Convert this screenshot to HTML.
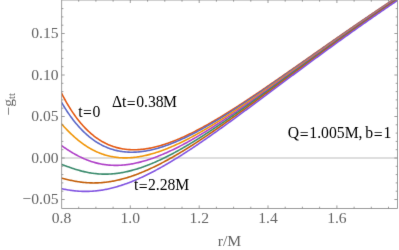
<!DOCTYPE html>
<html><head><meta charset="utf-8"><title>plot</title>
<style>
html,body{margin:0;padding:0;background:#fff;}
body{width:399px;height:250px;overflow:hidden;font-family:"Liberation Serif",serif;}
svg{display:block;}
text{font-family:"Liberation Serif",serif;}
.tl{fill:#646464;font-size:15.6px;}
.lb{fill:#000;font-size:15.7px;}
</style></head><body>
<svg width="399" height="250" viewBox="0 0 399 250">
<defs><filter id="b" x="0" y="0" width="399" height="250" filterUnits="userSpaceOnUse" color-interpolation-filters="sRGB"><feConvolveMatrix order="3" kernelMatrix="0.00524 0.06192 0.00524 0.06192 0.73137 0.06192 0.00524 0.06192 0.00524" edgeMode="duplicate" preserveAlpha="false"/></filter><clipPath id="c"><rect x="61.7" y="0" width="335.7" height="208.4"/></clipPath></defs>
<g filter="url(#b)">
<rect width="399" height="250" fill="#fff"/>
<line x1="61.7" y1="158.0" x2="397.4" y2="158.0" stroke="#bebebe" stroke-width="1.1"/>
<g clip-path="url(#c)" fill="none" stroke-width="1.6" stroke-linejoin="round">
<path d="M61.0,92.13 L62.0,94.11 L63.0,96.04 L64.0,97.92 L65.0,99.75 L66.0,101.54 L67.0,103.29 L68.0,104.99 L69.0,106.65 L70.0,108.26 L71.0,109.83 L72.0,111.37 L73.0,112.86 L74.0,114.31 L75.0,115.72 L76.0,117.10 L77.0,118.43 L78.0,119.73 L79.0,121.00 L80.0,122.23 L81.0,123.42 L82.0,124.58 L83.0,125.71 L84.0,126.80 L85.0,127.86 L86.0,128.89 L87.0,129.89 L88.0,130.85 L89.0,131.79 L90.0,132.69 L91.0,133.57 L92.0,134.42 L93.0,135.24 L94.0,136.03 L95.0,136.80 L96.0,137.54 L97.0,138.25 L98.0,138.94 L99.0,139.60 L100.0,140.24 L101.0,140.85 L102.0,141.44 L103.0,142.00 L104.0,142.54 L105.0,143.06 L106.0,143.56 L107.0,144.03 L108.0,144.49 L109.0,144.92 L110.0,145.33 L111.0,145.72 L112.0,146.09 L113.0,146.44 L114.0,146.77 L115.0,147.08 L116.0,147.37 L117.0,147.65 L118.0,147.90 L119.0,148.14 L120.0,148.36 L121.0,148.56 L122.0,148.75 L123.0,148.92 L124.0,149.07 L125.0,149.21 L126.0,149.33 L127.0,149.44 L128.0,149.53 L129.0,149.60 L130.0,149.66 L131.0,149.71 L132.0,149.74 L133.0,149.76 L134.0,149.76 L135.0,149.75 L136.0,149.73 L137.0,149.69 L138.0,149.64 L139.0,149.58 L140.0,149.51 L141.0,149.42 L142.0,149.32 L143.0,149.21 L144.0,149.09 L145.0,148.96 L146.0,148.82 L147.0,148.66 L148.0,148.49 L149.0,148.32 L150.0,148.13 L151.0,147.93 L152.0,147.73 L153.0,147.51 L154.0,147.28 L155.0,147.04 L156.0,146.80 L157.0,146.54 L158.0,146.28 L159.0,146.01 L160.0,145.72 L161.0,145.43 L162.0,145.13 L163.0,144.83 L164.0,144.51 L165.0,144.19 L166.0,143.85 L167.0,143.51 L168.0,143.17 L169.0,142.81 L170.0,142.45 L171.0,142.08 L172.0,141.70 L173.0,141.32 L174.0,140.93 L175.0,140.53 L176.0,140.13 L177.0,139.72 L178.0,139.30 L179.0,138.88 L180.0,138.45 L181.0,138.02 L182.0,137.57 L183.0,137.13 L184.0,136.67 L185.0,136.22 L186.0,135.75 L187.0,135.28 L188.0,134.81 L189.0,134.33 L190.0,133.84 L191.0,133.35 L192.0,132.86 L193.0,132.36 L194.0,131.85 L195.0,131.34 L196.0,130.83 L197.0,130.31 L198.0,129.79 L199.0,129.26 L200.0,128.73 L201.0,128.19 L202.0,127.65 L203.0,127.11 L204.0,126.56 L205.0,126.01 L206.0,125.46 L207.0,124.90 L208.0,124.33 L209.0,123.77 L210.0,123.20 L211.0,122.62 L212.0,122.05 L213.0,121.47 L214.0,120.88 L215.0,120.30 L216.0,119.71 L217.0,119.11 L218.0,118.52 L219.0,117.92 L220.0,117.32 L221.0,116.71 L222.0,116.10 L223.0,115.49 L224.0,114.88 L225.0,114.27 L226.0,113.65 L227.0,113.03 L228.0,112.41 L229.0,111.78 L230.0,111.15 L231.0,110.52 L232.0,109.89 L233.0,109.26 L234.0,108.62 L235.0,107.98 L236.0,107.34 L237.0,106.70 L238.0,106.05 L239.0,105.41 L240.0,104.76 L241.0,104.11 L242.0,103.46 L243.0,102.80 L244.0,102.15 L245.0,101.49 L246.0,100.83 L247.0,100.17 L248.0,99.51 L249.0,98.85 L250.0,98.19 L251.0,97.52 L252.0,96.85 L253.0,96.18 L254.0,95.51 L255.0,94.84 L256.0,94.17 L257.0,93.50 L258.0,92.82 L259.0,92.14 L260.0,91.47 L261.0,90.79 L262.0,90.11 L263.0,89.43 L264.0,88.75 L265.0,88.07 L266.0,87.38 L267.0,86.70 L268.0,86.01 L269.0,85.33 L270.0,84.64 L271.0,83.95 L272.0,83.27 L273.0,82.58 L274.0,81.89 L275.0,81.20 L276.0,80.51 L277.0,79.81 L278.0,79.12 L279.0,78.43 L280.0,77.74 L281.0,77.04 L282.0,76.35 L283.0,75.65 L284.0,74.96 L285.0,74.26 L286.0,73.57 L287.0,72.87 L288.0,72.17 L289.0,71.48 L290.0,70.78 L291.0,70.08 L292.0,69.38 L293.0,68.68 L294.0,67.98 L295.0,67.29 L296.0,66.59 L297.0,65.89 L298.0,65.19 L299.0,64.49 L300.0,63.79 L301.0,63.09 L302.0,62.39 L303.0,61.69 L304.0,60.99 L305.0,60.29 L306.0,59.59 L307.0,58.89 L308.0,58.19 L309.0,57.49 L310.0,56.79 L311.0,56.08 L312.0,55.38 L313.0,54.68 L314.0,53.98 L315.0,53.28 L316.0,52.58 L317.0,51.88 L318.0,51.19 L319.0,50.49 L320.0,49.79 L321.0,49.09 L322.0,48.39 L323.0,47.69 L324.0,46.99 L325.0,46.29 L326.0,45.59 L327.0,44.90 L328.0,44.20 L329.0,43.50 L330.0,42.80 L331.0,42.11 L332.0,41.41 L333.0,40.71 L334.0,40.02 L335.0,39.32 L336.0,38.63 L337.0,37.93 L338.0,37.24 L339.0,36.55 L340.0,35.85 L341.0,35.16 L342.0,34.47 L343.0,33.77 L344.0,33.08 L345.0,32.39 L346.0,31.70 L347.0,31.01 L348.0,30.32 L349.0,29.63 L350.0,28.94 L351.0,28.25 L352.0,27.56 L353.0,26.87 L354.0,26.19 L355.0,25.50 L356.0,24.81 L357.0,24.13 L358.0,23.44 L359.0,22.76 L360.0,22.07 L361.0,21.39 L362.0,20.71 L363.0,20.02 L364.0,19.34 L365.0,18.66 L366.0,17.98 L367.0,17.30 L368.0,16.62 L369.0,15.94 L370.0,15.26 L371.0,14.58 L372.0,13.91 L373.0,13.23 L374.0,12.55 L375.0,11.88 L376.0,11.20 L377.0,10.53 L378.0,9.86 L379.0,9.18 L380.0,8.51 L381.0,7.84 L382.0,7.17 L383.0,6.50 L384.0,5.83 L385.0,5.16 L386.0,4.49 L387.0,3.83 L388.0,3.16 L389.0,2.49 L390.0,1.83 L391.0,1.16 L392.0,0.50 L393.0,-0.16 L394.0,-0.82 L395.0,-1.49 L396.0,-2.15 L397.0,-2.81 L398.0,-3.47 L399.0,-4.12 L400.0,-4.78" stroke="#E45A14"/>
<path d="M61.0,101.51 L62.0,103.22 L63.0,104.89 L64.0,106.53 L65.0,108.13 L66.0,109.69 L67.0,111.22 L68.0,112.71 L69.0,114.17 L70.0,115.59 L71.0,116.98 L72.0,118.33 L73.0,119.66 L74.0,120.94 L75.0,122.20 L76.0,123.42 L77.0,124.61 L78.0,125.77 L79.0,126.90 L80.0,127.99 L81.0,129.06 L82.0,130.10 L83.0,131.11 L84.0,132.08 L85.0,133.03 L86.0,133.96 L87.0,134.85 L88.0,135.72 L89.0,136.56 L90.0,137.37 L91.0,138.16 L92.0,138.92 L93.0,139.66 L94.0,140.37 L95.0,141.05 L96.0,141.71 L97.0,142.35 L98.0,142.97 L99.0,143.56 L100.0,144.13 L101.0,144.67 L102.0,145.20 L103.0,145.70 L104.0,146.18 L105.0,146.64 L106.0,147.08 L107.0,147.50 L108.0,147.90 L109.0,148.28 L110.0,148.64 L111.0,148.98 L112.0,149.30 L113.0,149.60 L114.0,149.89 L115.0,150.15 L116.0,150.40 L117.0,150.63 L118.0,150.85 L119.0,151.05 L120.0,151.23 L121.0,151.39 L122.0,151.54 L123.0,151.67 L124.0,151.79 L125.0,151.89 L126.0,151.98 L127.0,152.05 L128.0,152.11 L129.0,152.16 L130.0,152.19 L131.0,152.20 L132.0,152.20 L133.0,152.19 L134.0,152.17 L135.0,152.13 L136.0,152.08 L137.0,152.02 L138.0,151.94 L139.0,151.86 L140.0,151.76 L141.0,151.65 L142.0,151.53 L143.0,151.39 L144.0,151.25 L145.0,151.09 L146.0,150.93 L147.0,150.75 L148.0,150.56 L149.0,150.37 L150.0,150.16 L151.0,149.94 L152.0,149.71 L153.0,149.48 L154.0,149.23 L155.0,148.98 L156.0,148.71 L157.0,148.44 L158.0,148.16 L159.0,147.86 L160.0,147.57 L161.0,147.26 L162.0,146.94 L163.0,146.62 L164.0,146.29 L165.0,145.95 L166.0,145.60 L167.0,145.24 L168.0,144.88 L169.0,144.51 L170.0,144.14 L171.0,143.75 L172.0,143.36 L173.0,142.96 L174.0,142.56 L175.0,142.15 L176.0,141.73 L177.0,141.31 L178.0,140.88 L179.0,140.44 L180.0,140.00 L181.0,139.55 L182.0,139.10 L183.0,138.64 L184.0,138.18 L185.0,137.71 L186.0,137.23 L187.0,136.75 L188.0,136.26 L189.0,135.77 L190.0,135.28 L191.0,134.78 L192.0,134.27 L193.0,133.76 L194.0,133.24 L195.0,132.72 L196.0,132.20 L197.0,131.67 L198.0,131.14 L199.0,130.60 L200.0,130.06 L201.0,129.51 L202.0,128.96 L203.0,128.41 L204.0,127.85 L205.0,127.29 L206.0,126.72 L207.0,126.16 L208.0,125.58 L209.0,125.01 L210.0,124.43 L211.0,123.85 L212.0,123.26 L213.0,122.67 L214.0,122.08 L215.0,121.48 L216.0,120.88 L217.0,120.28 L218.0,119.68 L219.0,119.07 L220.0,118.46 L221.0,117.85 L222.0,117.23 L223.0,116.61 L224.0,115.99 L225.0,115.37 L226.0,114.74 L227.0,114.11 L228.0,113.48 L229.0,112.85 L230.0,112.22 L231.0,111.58 L232.0,110.94 L233.0,110.30 L234.0,109.65 L235.0,109.01 L236.0,108.36 L237.0,107.71 L238.0,107.06 L239.0,106.40 L240.0,105.75 L241.0,105.09 L242.0,104.43 L243.0,103.77 L244.0,103.11 L245.0,102.44 L246.0,101.78 L247.0,101.11 L248.0,100.44 L249.0,99.77 L250.0,99.10 L251.0,98.43 L252.0,97.75 L253.0,97.08 L254.0,96.40 L255.0,95.72 L256.0,95.04 L257.0,94.36 L258.0,93.68 L259.0,93.00 L260.0,92.31 L261.0,91.63 L262.0,90.94 L263.0,90.26 L264.0,89.57 L265.0,88.88 L266.0,88.19 L267.0,87.50 L268.0,86.81 L269.0,86.11 L270.0,85.42 L271.0,84.73 L272.0,84.03 L273.0,83.34 L274.0,82.64 L275.0,81.95 L276.0,81.25 L277.0,80.55 L278.0,79.85 L279.0,79.15 L280.0,78.45 L281.0,77.76 L282.0,77.05 L283.0,76.35 L284.0,75.65 L285.0,74.95 L286.0,74.25 L287.0,73.55 L288.0,72.84 L289.0,72.14 L290.0,71.44 L291.0,70.73 L292.0,70.03 L293.0,69.33 L294.0,68.62 L295.0,67.92 L296.0,67.21 L297.0,66.51 L298.0,65.80 L299.0,65.10 L300.0,64.39 L301.0,63.69 L302.0,62.98 L303.0,62.27 L304.0,61.57 L305.0,60.86 L306.0,60.16 L307.0,59.45 L308.0,58.75 L309.0,58.04 L310.0,57.34 L311.0,56.63 L312.0,55.92 L313.0,55.22 L314.0,54.51 L315.0,53.81 L316.0,53.10 L317.0,52.40 L318.0,51.69 L319.0,50.99 L320.0,50.29 L321.0,49.58 L322.0,48.88 L323.0,48.17 L324.0,47.47 L325.0,46.77 L326.0,46.06 L327.0,45.36 L328.0,44.66 L329.0,43.96 L330.0,43.26 L331.0,42.55 L332.0,41.85 L333.0,41.15 L334.0,40.45 L335.0,39.75 L336.0,39.05 L337.0,38.35 L338.0,37.65 L339.0,36.96 L340.0,36.26 L341.0,35.56 L342.0,34.86 L343.0,34.17 L344.0,33.47 L345.0,32.77 L346.0,32.08 L347.0,31.38 L348.0,30.69 L349.0,30.00 L350.0,29.30 L351.0,28.61 L352.0,27.92 L353.0,27.22 L354.0,26.53 L355.0,25.84 L356.0,25.15 L357.0,24.46 L358.0,23.77 L359.0,23.08 L360.0,22.40 L361.0,21.71 L362.0,21.02 L363.0,20.34 L364.0,19.65 L365.0,18.97 L366.0,18.28 L367.0,17.60 L368.0,16.91 L369.0,16.23 L370.0,15.55 L371.0,14.87 L372.0,14.19 L373.0,13.51 L374.0,12.83 L375.0,12.15 L376.0,11.47 L377.0,10.79 L378.0,10.12 L379.0,9.44 L380.0,8.77 L381.0,8.09 L382.0,7.42 L383.0,6.74 L384.0,6.07 L385.0,5.40 L386.0,4.73 L387.0,4.06 L388.0,3.39 L389.0,2.72 L390.0,2.05 L391.0,1.39 L392.0,0.72 L393.0,0.05 L394.0,-0.61 L395.0,-1.28 L396.0,-1.94 L397.0,-2.60 L398.0,-3.27 L399.0,-3.93 L400.0,-4.59" stroke="#5C69C8"/>
<path d="M61.0,123.35 L62.0,124.48 L63.0,125.58 L64.0,126.67 L65.0,127.75 L66.0,128.80 L67.0,129.84 L68.0,130.87 L69.0,131.87 L70.0,132.86 L71.0,133.82 L72.0,134.77 L73.0,135.70 L74.0,136.60 L75.0,137.49 L76.0,138.36 L77.0,139.21 L78.0,140.04 L79.0,140.84 L80.0,141.63 L81.0,142.40 L82.0,143.14 L83.0,143.87 L84.0,144.58 L85.0,145.26 L86.0,145.93 L87.0,146.57 L88.0,147.20 L89.0,147.81 L90.0,148.39 L91.0,148.96 L92.0,149.51 L93.0,150.04 L94.0,150.54 L95.0,151.03 L96.0,151.51 L97.0,151.96 L98.0,152.39 L99.0,152.81 L100.0,153.21 L101.0,153.59 L102.0,153.95 L103.0,154.30 L104.0,154.63 L105.0,154.94 L106.0,155.23 L107.0,155.51 L108.0,155.77 L109.0,156.01 L110.0,156.24 L111.0,156.45 L112.0,156.65 L113.0,156.83 L114.0,157.00 L115.0,157.15 L116.0,157.29 L117.0,157.41 L118.0,157.51 L119.0,157.61 L120.0,157.68 L121.0,157.75 L122.0,157.80 L123.0,157.84 L124.0,157.86 L125.0,157.87 L126.0,157.87 L127.0,157.85 L128.0,157.82 L129.0,157.78 L130.0,157.73 L131.0,157.67 L132.0,157.59 L133.0,157.50 L134.0,157.40 L135.0,157.29 L136.0,157.17 L137.0,157.03 L138.0,156.89 L139.0,156.73 L140.0,156.57 L141.0,156.39 L142.0,156.21 L143.0,156.01 L144.0,155.80 L145.0,155.59 L146.0,155.36 L147.0,155.13 L148.0,154.88 L149.0,154.63 L150.0,154.37 L151.0,154.09 L152.0,153.81 L153.0,153.52 L154.0,153.23 L155.0,152.92 L156.0,152.61 L157.0,152.29 L158.0,151.96 L159.0,151.62 L160.0,151.27 L161.0,150.92 L162.0,150.56 L163.0,150.19 L164.0,149.82 L165.0,149.43 L166.0,149.05 L167.0,148.65 L168.0,148.25 L169.0,147.84 L170.0,147.42 L171.0,147.00 L172.0,146.57 L173.0,146.14 L174.0,145.70 L175.0,145.25 L176.0,144.80 L177.0,144.34 L178.0,143.88 L179.0,143.41 L180.0,142.93 L181.0,142.45 L182.0,141.97 L183.0,141.48 L184.0,140.98 L185.0,140.48 L186.0,139.97 L187.0,139.46 L188.0,138.95 L189.0,138.43 L190.0,137.90 L191.0,137.37 L192.0,136.84 L193.0,136.30 L194.0,135.76 L195.0,135.21 L196.0,134.66 L197.0,134.11 L198.0,133.55 L199.0,132.99 L200.0,132.42 L201.0,131.85 L202.0,131.28 L203.0,130.70 L204.0,130.12 L205.0,129.54 L206.0,128.95 L207.0,128.36 L208.0,127.76 L209.0,127.17 L210.0,126.56 L211.0,125.96 L212.0,125.35 L213.0,124.74 L214.0,124.13 L215.0,123.52 L216.0,122.90 L217.0,122.28 L218.0,121.65 L219.0,121.03 L220.0,120.40 L221.0,119.77 L222.0,119.13 L223.0,118.50 L224.0,117.86 L225.0,117.22 L226.0,116.58 L227.0,115.93 L228.0,115.28 L229.0,114.63 L230.0,113.98 L231.0,113.33 L232.0,112.67 L233.0,112.02 L234.0,111.36 L235.0,110.69 L236.0,110.03 L237.0,109.37 L238.0,108.70 L239.0,108.03 L240.0,107.36 L241.0,106.69 L242.0,106.02 L243.0,105.34 L244.0,104.67 L245.0,103.99 L246.0,103.31 L247.0,102.63 L248.0,101.95 L249.0,101.27 L250.0,100.58 L251.0,99.90 L252.0,99.21 L253.0,98.52 L254.0,97.83 L255.0,97.14 L256.0,96.45 L257.0,95.76 L258.0,95.07 L259.0,94.37 L260.0,93.68 L261.0,92.98 L262.0,92.29 L263.0,91.59 L264.0,90.89 L265.0,90.19 L266.0,89.49 L267.0,88.79 L268.0,88.09 L269.0,87.39 L270.0,86.69 L271.0,85.98 L272.0,85.28 L273.0,84.57 L274.0,83.87 L275.0,83.16 L276.0,82.46 L277.0,81.75 L278.0,81.04 L279.0,80.34 L280.0,79.63 L281.0,78.92 L282.0,78.21 L283.0,77.50 L284.0,76.79 L285.0,76.08 L286.0,75.37 L287.0,74.66 L288.0,73.95 L289.0,73.24 L290.0,72.53 L291.0,71.82 L292.0,71.11 L293.0,70.40 L294.0,69.68 L295.0,68.97 L296.0,68.26 L297.0,67.55 L298.0,66.84 L299.0,66.12 L300.0,65.41 L301.0,64.70 L302.0,63.99 L303.0,63.28 L304.0,62.56 L305.0,61.85 L306.0,61.14 L307.0,60.43 L308.0,59.72 L309.0,59.00 L310.0,58.29 L311.0,57.58 L312.0,56.87 L313.0,56.16 L314.0,55.45 L315.0,54.74 L316.0,54.03 L317.0,53.32 L318.0,52.61 L319.0,51.90 L320.0,51.19 L321.0,50.48 L322.0,49.77 L323.0,49.06 L324.0,48.35 L325.0,47.64 L326.0,46.93 L327.0,46.23 L328.0,45.52 L329.0,44.81 L330.0,44.10 L331.0,43.40 L332.0,42.69 L333.0,41.99 L334.0,41.28 L335.0,40.58 L336.0,39.87 L337.0,39.17 L338.0,38.47 L339.0,37.76 L340.0,37.06 L341.0,36.36 L342.0,35.66 L343.0,34.96 L344.0,34.25 L345.0,33.55 L346.0,32.86 L347.0,32.16 L348.0,31.46 L349.0,30.76 L350.0,30.06 L351.0,29.37 L352.0,28.67 L353.0,27.97 L354.0,27.28 L355.0,26.58 L356.0,25.89 L357.0,25.20 L358.0,24.50 L359.0,23.81 L360.0,23.12 L361.0,22.43 L362.0,21.74 L363.0,21.05 L364.0,20.36 L365.0,19.67 L366.0,18.98 L367.0,18.29 L368.0,17.61 L369.0,16.92 L370.0,16.24 L371.0,15.55 L372.0,14.87 L373.0,14.18 L374.0,13.50 L375.0,12.82 L376.0,12.14 L377.0,11.46 L378.0,10.78 L379.0,10.10 L380.0,9.42 L381.0,8.74 L382.0,8.06 L383.0,7.39 L384.0,6.71 L385.0,6.04 L386.0,5.36 L387.0,4.69 L388.0,4.02 L389.0,3.35 L390.0,2.67 L391.0,2.00 L392.0,1.33 L393.0,0.67 L394.0,-0.00 L395.0,-0.67 L396.0,-1.34 L397.0,-2.00 L398.0,-2.67 L399.0,-3.33 L400.0,-4.00" stroke="#F0960A"/>
<path d="M61.0,145.18 L62.0,145.89 L63.0,146.59 L64.0,147.29 L65.0,147.97 L66.0,148.65 L67.0,149.32 L68.0,149.97 L69.0,150.61 L70.0,151.25 L71.0,151.87 L72.0,152.48 L73.0,153.07 L74.0,153.65 L75.0,154.22 L76.0,154.78 L77.0,155.32 L78.0,155.85 L79.0,156.36 L80.0,156.86 L81.0,157.34 L82.0,157.81 L83.0,158.27 L84.0,158.71 L85.0,159.14 L86.0,159.55 L87.0,159.95 L88.0,160.33 L89.0,160.70 L90.0,161.06 L91.0,161.40 L92.0,161.72 L93.0,162.03 L94.0,162.33 L95.0,162.61 L96.0,162.88 L97.0,163.13 L98.0,163.37 L99.0,163.60 L100.0,163.81 L101.0,164.00 L102.0,164.19 L103.0,164.36 L104.0,164.51 L105.0,164.65 L106.0,164.78 L107.0,164.90 L108.0,165.00 L109.0,165.09 L110.0,165.17 L111.0,165.23 L112.0,165.28 L113.0,165.32 L114.0,165.35 L115.0,165.36 L116.0,165.36 L117.0,165.35 L118.0,165.33 L119.0,165.30 L120.0,165.25 L121.0,165.20 L122.0,165.13 L123.0,165.05 L124.0,164.96 L125.0,164.86 L126.0,164.75 L127.0,164.62 L128.0,164.49 L129.0,164.35 L130.0,164.19 L131.0,164.03 L132.0,163.86 L133.0,163.67 L134.0,163.48 L135.0,163.28 L136.0,163.07 L137.0,162.84 L138.0,162.61 L139.0,162.37 L140.0,162.13 L141.0,161.87 L142.0,161.60 L143.0,161.33 L144.0,161.04 L145.0,160.75 L146.0,160.45 L147.0,160.14 L148.0,159.83 L149.0,159.50 L150.0,159.17 L151.0,158.83 L152.0,158.49 L153.0,158.13 L154.0,157.77 L155.0,157.40 L156.0,157.03 L157.0,156.65 L158.0,156.26 L159.0,155.86 L160.0,155.46 L161.0,155.05 L162.0,154.63 L163.0,154.21 L164.0,153.78 L165.0,153.35 L166.0,152.91 L167.0,152.46 L168.0,152.01 L169.0,151.55 L170.0,151.09 L171.0,150.62 L172.0,150.15 L173.0,149.67 L174.0,149.18 L175.0,148.69 L176.0,148.19 L177.0,147.69 L178.0,147.19 L179.0,146.68 L180.0,146.16 L181.0,145.64 L182.0,145.12 L183.0,144.59 L184.0,144.06 L185.0,143.52 L186.0,142.98 L187.0,142.43 L188.0,141.88 L189.0,141.32 L190.0,140.77 L191.0,140.20 L192.0,139.64 L193.0,139.07 L194.0,138.49 L195.0,137.91 L196.0,137.33 L197.0,136.75 L198.0,136.16 L199.0,135.57 L200.0,134.97 L201.0,134.37 L202.0,133.77 L203.0,133.17 L204.0,132.56 L205.0,131.95 L206.0,131.33 L207.0,130.72 L208.0,130.10 L209.0,129.48 L210.0,128.85 L211.0,128.22 L212.0,127.59 L213.0,126.96 L214.0,126.32 L215.0,125.68 L216.0,125.04 L217.0,124.40 L218.0,123.75 L219.0,123.11 L220.0,122.46 L221.0,121.80 L222.0,121.15 L223.0,120.49 L224.0,119.84 L225.0,119.17 L226.0,118.51 L227.0,117.85 L228.0,117.18 L229.0,116.51 L230.0,115.84 L231.0,115.17 L232.0,114.50 L233.0,113.82 L234.0,113.15 L235.0,112.47 L236.0,111.79 L237.0,111.11 L238.0,110.42 L239.0,109.74 L240.0,109.05 L241.0,108.37 L242.0,107.68 L243.0,106.99 L244.0,106.30 L245.0,105.61 L246.0,104.91 L247.0,104.22 L248.0,103.52 L249.0,102.83 L250.0,102.13 L251.0,101.43 L252.0,100.73 L253.0,100.03 L254.0,99.33 L255.0,98.62 L256.0,97.92 L257.0,97.21 L258.0,96.51 L259.0,95.80 L260.0,95.10 L261.0,94.39 L262.0,93.68 L263.0,92.97 L264.0,92.26 L265.0,91.55 L266.0,90.84 L267.0,90.13 L268.0,89.42 L269.0,88.70 L270.0,87.99 L271.0,87.28 L272.0,86.56 L273.0,85.85 L274.0,85.13 L275.0,84.42 L276.0,83.70 L277.0,82.98 L278.0,82.27 L279.0,81.55 L280.0,80.83 L281.0,80.11 L282.0,79.40 L283.0,78.68 L284.0,77.96 L285.0,77.24 L286.0,76.52 L287.0,75.80 L288.0,75.09 L289.0,74.37 L290.0,73.65 L291.0,72.93 L292.0,72.21 L293.0,71.49 L294.0,70.77 L295.0,70.05 L296.0,69.33 L297.0,68.61 L298.0,67.89 L299.0,67.17 L300.0,66.45 L301.0,65.73 L302.0,65.01 L303.0,64.29 L304.0,63.57 L305.0,62.85 L306.0,62.14 L307.0,61.42 L308.0,60.70 L309.0,59.98 L310.0,59.26 L311.0,58.54 L312.0,57.83 L313.0,57.11 L314.0,56.39 L315.0,55.67 L316.0,54.96 L317.0,54.24 L318.0,53.52 L319.0,52.81 L320.0,52.09 L321.0,51.38 L322.0,50.66 L323.0,49.95 L324.0,49.23 L325.0,48.52 L326.0,47.80 L327.0,47.09 L328.0,46.38 L329.0,45.67 L330.0,44.95 L331.0,44.24 L332.0,43.53 L333.0,42.82 L334.0,42.11 L335.0,41.40 L336.0,40.69 L337.0,39.98 L338.0,39.27 L339.0,38.57 L340.0,37.86 L341.0,37.15 L342.0,36.44 L343.0,35.74 L344.0,35.03 L345.0,34.33 L346.0,33.62 L347.0,32.92 L348.0,32.22 L349.0,31.52 L350.0,30.81 L351.0,30.11 L352.0,29.41 L353.0,28.71 L354.0,28.01 L355.0,27.31 L356.0,26.61 L357.0,25.92 L358.0,25.22 L359.0,24.52 L360.0,23.83 L361.0,23.13 L362.0,22.44 L363.0,21.74 L364.0,21.05 L365.0,20.36 L366.0,19.67 L367.0,18.97 L368.0,18.28 L369.0,17.59 L370.0,16.90 L371.0,16.22 L372.0,15.53 L373.0,14.84 L374.0,14.15 L375.0,13.47 L376.0,12.78 L377.0,12.10 L378.0,11.42 L379.0,10.73 L380.0,10.05 L381.0,9.37 L382.0,8.69 L383.0,8.01 L384.0,7.33 L385.0,6.65 L386.0,5.98 L387.0,5.30 L388.0,4.62 L389.0,3.95 L390.0,3.27 L391.0,2.60 L392.0,1.93 L393.0,1.25 L394.0,0.58 L395.0,-0.09 L396.0,-0.76 L397.0,-1.43 L398.0,-2.09 L399.0,-2.76 L400.0,-3.43" stroke="#AF41C8"/>
<path d="M61.0,164.23 L62.0,164.59 L63.0,164.95 L64.0,165.32 L65.0,165.68 L66.0,166.04 L67.0,166.40 L68.0,166.76 L69.0,167.12 L70.0,167.47 L71.0,167.81 L72.0,168.15 L73.0,168.49 L74.0,168.82 L75.0,169.14 L76.0,169.45 L77.0,169.76 L78.0,170.05 L79.0,170.34 L80.0,170.62 L81.0,170.89 L82.0,171.15 L83.0,171.40 L84.0,171.64 L85.0,171.87 L86.0,172.09 L87.0,172.30 L88.0,172.49 L89.0,172.68 L90.0,172.86 L91.0,173.02 L92.0,173.17 L93.0,173.31 L94.0,173.45 L95.0,173.56 L96.0,173.67 L97.0,173.77 L98.0,173.85 L99.0,173.93 L100.0,173.99 L101.0,174.04 L102.0,174.08 L103.0,174.11 L104.0,174.13 L105.0,174.13 L106.0,174.13 L107.0,174.11 L108.0,174.09 L109.0,174.05 L110.0,174.00 L111.0,173.94 L112.0,173.87 L113.0,173.79 L114.0,173.70 L115.0,173.60 L116.0,173.49 L117.0,173.36 L118.0,173.23 L119.0,173.09 L120.0,172.94 L121.0,172.77 L122.0,172.60 L123.0,172.42 L124.0,172.23 L125.0,172.03 L126.0,171.82 L127.0,171.60 L128.0,171.38 L129.0,171.14 L130.0,170.89 L131.0,170.64 L132.0,170.38 L133.0,170.10 L134.0,169.82 L135.0,169.54 L136.0,169.24 L137.0,168.93 L138.0,168.62 L139.0,168.30 L140.0,167.97 L141.0,167.64 L142.0,167.29 L143.0,166.94 L144.0,166.58 L145.0,166.22 L146.0,165.84 L147.0,165.46 L148.0,165.08 L149.0,164.68 L150.0,164.28 L151.0,163.88 L152.0,163.46 L153.0,163.04 L154.0,162.62 L155.0,162.18 L156.0,161.74 L157.0,161.30 L158.0,160.85 L159.0,160.39 L160.0,159.93 L161.0,159.46 L162.0,158.99 L163.0,158.51 L164.0,158.02 L165.0,157.53 L166.0,157.04 L167.0,156.53 L168.0,156.03 L169.0,155.52 L170.0,155.00 L171.0,154.48 L172.0,153.96 L173.0,153.43 L174.0,152.89 L175.0,152.35 L176.0,151.81 L177.0,151.26 L178.0,150.71 L179.0,150.15 L180.0,149.59 L181.0,149.03 L182.0,148.46 L183.0,147.89 L184.0,147.31 L185.0,146.73 L186.0,146.14 L187.0,145.56 L188.0,144.97 L189.0,144.37 L190.0,143.77 L191.0,143.17 L192.0,142.57 L193.0,141.96 L194.0,141.35 L195.0,140.73 L196.0,140.11 L197.0,139.49 L198.0,138.87 L199.0,138.24 L200.0,137.61 L201.0,136.98 L202.0,136.35 L203.0,135.71 L204.0,135.07 L205.0,134.42 L206.0,133.78 L207.0,133.13 L208.0,132.48 L209.0,131.83 L210.0,131.17 L211.0,130.52 L212.0,129.86 L213.0,129.20 L214.0,128.53 L215.0,127.87 L216.0,127.20 L217.0,126.53 L218.0,125.86 L219.0,125.18 L220.0,124.51 L221.0,123.83 L222.0,123.15 L223.0,122.47 L224.0,121.79 L225.0,121.10 L226.0,120.42 L227.0,119.73 L228.0,119.04 L229.0,118.35 L230.0,117.66 L231.0,116.96 L232.0,116.27 L233.0,115.57 L234.0,114.87 L235.0,114.18 L236.0,113.48 L237.0,112.77 L238.0,112.07 L239.0,111.37 L240.0,110.66 L241.0,109.96 L242.0,109.25 L243.0,108.54 L244.0,107.83 L245.0,107.12 L246.0,106.41 L247.0,105.70 L248.0,104.99 L249.0,104.28 L250.0,103.56 L251.0,102.85 L252.0,102.13 L253.0,101.42 L254.0,100.70 L255.0,99.98 L256.0,99.26 L257.0,98.54 L258.0,97.82 L259.0,97.10 L260.0,96.38 L261.0,95.66 L262.0,94.94 L263.0,94.22 L264.0,93.49 L265.0,92.77 L266.0,92.05 L267.0,91.32 L268.0,90.60 L269.0,89.87 L270.0,89.15 L271.0,88.42 L272.0,87.70 L273.0,86.97 L274.0,86.25 L275.0,85.52 L276.0,84.79 L277.0,84.07 L278.0,83.34 L279.0,82.61 L280.0,81.89 L281.0,81.16 L282.0,80.43 L283.0,79.71 L284.0,78.98 L285.0,78.25 L286.0,77.52 L287.0,76.80 L288.0,76.07 L289.0,75.34 L290.0,74.61 L291.0,73.89 L292.0,73.16 L293.0,72.43 L294.0,71.70 L295.0,70.98 L296.0,70.25 L297.0,69.52 L298.0,68.80 L299.0,68.07 L300.0,67.34 L301.0,66.62 L302.0,65.89 L303.0,65.17 L304.0,64.44 L305.0,63.72 L306.0,62.99 L307.0,62.27 L308.0,61.54 L309.0,60.82 L310.0,60.10 L311.0,59.37 L312.0,58.65 L313.0,57.93 L314.0,57.21 L315.0,56.48 L316.0,55.76 L317.0,55.04 L318.0,54.32 L319.0,53.60 L320.0,52.88 L321.0,52.16 L322.0,51.44 L323.0,50.72 L324.0,50.00 L325.0,49.29 L326.0,48.57 L327.0,47.85 L328.0,47.14 L329.0,46.42 L330.0,45.71 L331.0,44.99 L332.0,44.28 L333.0,43.56 L334.0,42.85 L335.0,42.14 L336.0,41.43 L337.0,40.71 L338.0,40.00 L339.0,39.29 L340.0,38.58 L341.0,37.87 L342.0,37.17 L343.0,36.46 L344.0,35.75 L345.0,35.04 L346.0,34.34 L347.0,33.63 L348.0,32.93 L349.0,32.22 L350.0,31.52 L351.0,30.82 L352.0,30.12 L353.0,29.41 L354.0,28.71 L355.0,28.01 L356.0,27.31 L357.0,26.61 L358.0,25.92 L359.0,25.22 L360.0,24.52 L361.0,23.83 L362.0,23.13 L363.0,22.44 L364.0,21.74 L365.0,21.05 L366.0,20.36 L367.0,19.67 L368.0,18.98 L369.0,18.29 L370.0,17.60 L371.0,16.91 L372.0,16.22 L373.0,15.53 L374.0,14.85 L375.0,14.16 L376.0,13.48 L377.0,12.79 L378.0,12.11 L379.0,11.43 L380.0,10.75 L381.0,10.07 L382.0,9.39 L383.0,8.71 L384.0,8.03 L385.0,7.35 L386.0,6.67 L387.0,6.00 L388.0,5.32 L389.0,4.65 L390.0,3.98 L391.0,3.30 L392.0,2.63 L393.0,1.96 L394.0,1.29 L395.0,0.62 L396.0,-0.05 L397.0,-0.71 L398.0,-1.38 L399.0,-2.05 L400.0,-2.71" stroke="#3C8C6E"/>
<path d="M61.0,177.97 L62.0,178.23 L63.0,178.49 L64.0,178.74 L65.0,178.99 L66.0,179.24 L67.0,179.48 L68.0,179.72 L69.0,179.95 L70.0,180.17 L71.0,180.38 L72.0,180.59 L73.0,180.79 L74.0,180.99 L75.0,181.17 L76.0,181.35 L77.0,181.52 L78.0,181.68 L79.0,181.83 L80.0,181.97 L81.0,182.10 L82.0,182.22 L83.0,182.34 L84.0,182.44 L85.0,182.53 L86.0,182.62 L87.0,182.69 L88.0,182.76 L89.0,182.81 L90.0,182.85 L91.0,182.89 L92.0,182.91 L93.0,182.93 L94.0,182.93 L95.0,182.92 L96.0,182.91 L97.0,182.88 L98.0,182.85 L99.0,182.80 L100.0,182.74 L101.0,182.68 L102.0,182.60 L103.0,182.51 L104.0,182.42 L105.0,182.31 L106.0,182.20 L107.0,182.07 L108.0,181.94 L109.0,181.79 L110.0,181.64 L111.0,181.48 L112.0,181.31 L113.0,181.13 L114.0,180.94 L115.0,180.74 L116.0,180.53 L117.0,180.31 L118.0,180.09 L119.0,179.85 L120.0,179.61 L121.0,179.36 L122.0,179.10 L123.0,178.83 L124.0,178.56 L125.0,178.27 L126.0,177.98 L127.0,177.68 L128.0,177.37 L129.0,177.06 L130.0,176.74 L131.0,176.40 L132.0,176.07 L133.0,175.72 L134.0,175.37 L135.0,175.01 L136.0,174.64 L137.0,174.27 L138.0,173.89 L139.0,173.50 L140.0,173.10 L141.0,172.70 L142.0,172.29 L143.0,171.88 L144.0,171.46 L145.0,171.03 L146.0,170.60 L147.0,170.16 L148.0,169.72 L149.0,169.26 L150.0,168.81 L151.0,168.34 L152.0,167.88 L153.0,167.40 L154.0,166.92 L155.0,166.44 L156.0,165.95 L157.0,165.45 L158.0,164.95 L159.0,164.45 L160.0,163.93 L161.0,163.42 L162.0,162.90 L163.0,162.37 L164.0,161.84 L165.0,161.31 L166.0,160.77 L167.0,160.22 L168.0,159.68 L169.0,159.12 L170.0,158.57 L171.0,158.01 L172.0,157.44 L173.0,156.87 L174.0,156.30 L175.0,155.72 L176.0,155.14 L177.0,154.55 L178.0,153.97 L179.0,153.37 L180.0,152.78 L181.0,152.18 L182.0,151.57 L183.0,150.97 L184.0,150.36 L185.0,149.75 L186.0,149.13 L187.0,148.51 L188.0,147.89 L189.0,147.26 L190.0,146.63 L191.0,146.00 L192.0,145.37 L193.0,144.73 L194.0,144.09 L195.0,143.45 L196.0,142.80 L197.0,142.15 L198.0,141.50 L199.0,140.85 L200.0,140.19 L201.0,139.54 L202.0,138.88 L203.0,138.21 L204.0,137.55 L205.0,136.88 L206.0,136.21 L207.0,135.54 L208.0,134.87 L209.0,134.19 L210.0,133.51 L211.0,132.83 L212.0,132.15 L213.0,131.47 L214.0,130.78 L215.0,130.10 L216.0,129.41 L217.0,128.72 L218.0,128.02 L219.0,127.33 L220.0,126.63 L221.0,125.94 L222.0,125.24 L223.0,124.54 L224.0,123.84 L225.0,123.13 L226.0,122.43 L227.0,121.72 L228.0,121.02 L229.0,120.31 L230.0,119.60 L231.0,118.89 L232.0,118.18 L233.0,117.46 L234.0,116.75 L235.0,116.03 L236.0,115.32 L237.0,114.60 L238.0,113.88 L239.0,113.16 L240.0,112.44 L241.0,111.72 L242.0,111.00 L243.0,110.28 L244.0,109.56 L245.0,108.83 L246.0,108.11 L247.0,107.38 L248.0,106.65 L249.0,105.93 L250.0,105.20 L251.0,104.47 L252.0,103.74 L253.0,103.01 L254.0,102.28 L255.0,101.55 L256.0,100.82 L257.0,100.09 L258.0,99.36 L259.0,98.62 L260.0,97.89 L261.0,97.16 L262.0,96.42 L263.0,95.69 L264.0,94.96 L265.0,94.22 L266.0,93.49 L267.0,92.75 L268.0,92.02 L269.0,91.28 L270.0,90.54 L271.0,89.81 L272.0,89.07 L273.0,88.34 L274.0,87.60 L275.0,86.86 L276.0,86.13 L277.0,85.39 L278.0,84.65 L279.0,83.92 L280.0,83.18 L281.0,82.44 L282.0,81.71 L283.0,80.97 L284.0,80.23 L285.0,79.49 L286.0,78.76 L287.0,78.02 L288.0,77.28 L289.0,76.55 L290.0,75.81 L291.0,75.08 L292.0,74.34 L293.0,73.60 L294.0,72.87 L295.0,72.13 L296.0,71.40 L297.0,70.66 L298.0,69.93 L299.0,69.19 L300.0,68.46 L301.0,67.73 L302.0,66.99 L303.0,66.26 L304.0,65.53 L305.0,64.79 L306.0,64.06 L307.0,63.33 L308.0,62.60 L309.0,61.86 L310.0,61.13 L311.0,60.40 L312.0,59.67 L313.0,58.94 L314.0,58.21 L315.0,57.48 L316.0,56.76 L317.0,56.03 L318.0,55.30 L319.0,54.57 L320.0,53.85 L321.0,53.12 L322.0,52.39 L323.0,51.67 L324.0,50.94 L325.0,50.22 L326.0,49.50 L327.0,48.77 L328.0,48.05 L329.0,47.33 L330.0,46.61 L331.0,45.89 L332.0,45.17 L333.0,44.45 L334.0,43.73 L335.0,43.01 L336.0,42.29 L337.0,41.57 L338.0,40.86 L339.0,40.14 L340.0,39.42 L341.0,38.71 L342.0,37.99 L343.0,37.28 L344.0,36.57 L345.0,35.86 L346.0,35.14 L347.0,34.43 L348.0,33.72 L349.0,33.01 L350.0,32.30 L351.0,31.60 L352.0,30.89 L353.0,30.18 L354.0,29.48 L355.0,28.77 L356.0,28.07 L357.0,27.36 L358.0,26.66 L359.0,25.96 L360.0,25.25 L361.0,24.55 L362.0,23.85 L363.0,23.15 L364.0,22.45 L365.0,21.76 L366.0,21.06 L367.0,20.36 L368.0,19.67 L369.0,18.97 L370.0,18.28 L371.0,17.58 L372.0,16.89 L373.0,16.20 L374.0,15.51 L375.0,14.82 L376.0,14.13 L377.0,13.44 L378.0,12.75 L379.0,12.07 L380.0,11.38 L381.0,10.70 L382.0,10.01 L383.0,9.33 L384.0,8.64 L385.0,7.96 L386.0,7.28 L387.0,6.60 L388.0,5.92 L389.0,5.24 L390.0,4.56 L391.0,3.89 L392.0,3.21 L393.0,2.54 L394.0,1.86 L395.0,1.19 L396.0,0.52 L397.0,-0.16 L398.0,-0.83 L399.0,-1.50 L400.0,-2.17" stroke="#C35F0A"/>
<path d="M61.0,188.54 L62.0,188.76 L63.0,188.97 L64.0,189.18 L65.0,189.38 L66.0,189.56 L67.0,189.75 L68.0,189.92 L69.0,190.08 L70.0,190.24 L71.0,190.38 L72.0,190.52 L73.0,190.65 L74.0,190.77 L75.0,190.87 L76.0,190.97 L77.0,191.06 L78.0,191.14 L79.0,191.21 L80.0,191.27 L81.0,191.32 L82.0,191.36 L83.0,191.39 L84.0,191.41 L85.0,191.42 L86.0,191.42 L87.0,191.41 L88.0,191.39 L89.0,191.36 L90.0,191.32 L91.0,191.27 L92.0,191.21 L93.0,191.15 L94.0,191.07 L95.0,190.98 L96.0,190.88 L97.0,190.77 L98.0,190.65 L99.0,190.52 L100.0,190.39 L101.0,190.24 L102.0,190.09 L103.0,189.92 L104.0,189.75 L105.0,189.56 L106.0,189.37 L107.0,189.17 L108.0,188.96 L109.0,188.74 L110.0,188.51 L111.0,188.28 L112.0,188.03 L113.0,187.78 L114.0,187.52 L115.0,187.25 L116.0,186.97 L117.0,186.68 L118.0,186.39 L119.0,186.09 L120.0,185.78 L121.0,185.46 L122.0,185.13 L123.0,184.80 L124.0,184.46 L125.0,184.11 L126.0,183.76 L127.0,183.39 L128.0,183.03 L129.0,182.65 L130.0,182.27 L131.0,181.88 L132.0,181.48 L133.0,181.07 L134.0,180.66 L135.0,180.25 L136.0,179.82 L137.0,179.39 L138.0,178.96 L139.0,178.52 L140.0,178.07 L141.0,177.61 L142.0,177.16 L143.0,176.69 L144.0,176.22 L145.0,175.74 L146.0,175.26 L147.0,174.77 L148.0,174.28 L149.0,173.78 L150.0,173.27 L151.0,172.76 L152.0,172.25 L153.0,171.73 L154.0,171.21 L155.0,170.68 L156.0,170.14 L157.0,169.61 L158.0,169.06 L159.0,168.51 L160.0,167.96 L161.0,167.41 L162.0,166.84 L163.0,166.28 L164.0,165.71 L165.0,165.14 L166.0,164.56 L167.0,163.98 L168.0,163.39 L169.0,162.80 L170.0,162.21 L171.0,161.61 L172.0,161.01 L173.0,160.41 L174.0,159.80 L175.0,159.19 L176.0,158.57 L177.0,157.95 L178.0,157.33 L179.0,156.71 L180.0,156.08 L181.0,155.45 L182.0,154.82 L183.0,154.18 L184.0,153.54 L185.0,152.90 L186.0,152.25 L187.0,151.60 L188.0,150.95 L189.0,150.30 L190.0,149.64 L191.0,148.98 L192.0,148.32 L193.0,147.65 L194.0,146.99 L195.0,146.32 L196.0,145.65 L197.0,144.97 L198.0,144.30 L199.0,143.62 L200.0,142.94 L201.0,142.26 L202.0,141.57 L203.0,140.89 L204.0,140.20 L205.0,139.51 L206.0,138.81 L207.0,138.12 L208.0,137.42 L209.0,136.73 L210.0,136.03 L211.0,135.33 L212.0,134.62 L213.0,133.92 L214.0,133.21 L215.0,132.50 L216.0,131.80 L217.0,131.08 L218.0,130.37 L219.0,129.66 L220.0,128.94 L221.0,128.23 L222.0,127.51 L223.0,126.79 L224.0,126.07 L225.0,125.35 L226.0,124.63 L227.0,123.91 L228.0,123.18 L229.0,122.46 L230.0,121.73 L231.0,121.00 L232.0,120.28 L233.0,119.55 L234.0,118.82 L235.0,118.08 L236.0,117.35 L237.0,116.62 L238.0,115.89 L239.0,115.15 L240.0,114.42 L241.0,113.68 L242.0,112.94 L243.0,112.21 L244.0,111.47 L245.0,110.73 L246.0,109.99 L247.0,109.25 L248.0,108.51 L249.0,107.77 L250.0,107.03 L251.0,106.29 L252.0,105.55 L253.0,104.80 L254.0,104.06 L255.0,103.32 L256.0,102.58 L257.0,101.83 L258.0,101.09 L259.0,100.34 L260.0,99.60 L261.0,98.85 L262.0,98.11 L263.0,97.36 L264.0,96.62 L265.0,95.87 L266.0,95.12 L267.0,94.38 L268.0,93.63 L269.0,92.89 L270.0,92.14 L271.0,91.39 L272.0,90.65 L273.0,89.90 L274.0,89.15 L275.0,88.41 L276.0,87.66 L277.0,86.91 L278.0,86.17 L279.0,85.42 L280.0,84.67 L281.0,83.93 L282.0,83.18 L283.0,82.44 L284.0,81.69 L285.0,80.94 L286.0,80.20 L287.0,79.45 L288.0,78.71 L289.0,77.96 L290.0,77.22 L291.0,76.47 L292.0,75.73 L293.0,74.99 L294.0,74.24 L295.0,73.50 L296.0,72.75 L297.0,72.01 L298.0,71.27 L299.0,70.53 L300.0,69.79 L301.0,69.04 L302.0,68.30 L303.0,67.56 L304.0,66.82 L305.0,66.08 L306.0,65.34 L307.0,64.60 L308.0,63.86 L309.0,63.13 L310.0,62.39 L311.0,61.65 L312.0,60.91 L313.0,60.18 L314.0,59.44 L315.0,58.71 L316.0,57.97 L317.0,57.24 L318.0,56.50 L319.0,55.77 L320.0,55.04 L321.0,54.30 L322.0,53.57 L323.0,52.84 L324.0,52.11 L325.0,51.38 L326.0,50.65 L327.0,49.92 L328.0,49.19 L329.0,48.47 L330.0,47.74 L331.0,47.01 L332.0,46.29 L333.0,45.56 L334.0,44.84 L335.0,44.11 L336.0,43.39 L337.0,42.67 L338.0,41.95 L339.0,41.22 L340.0,40.50 L341.0,39.78 L342.0,39.06 L343.0,38.35 L344.0,37.63 L345.0,36.91 L346.0,36.19 L347.0,35.48 L348.0,34.76 L349.0,34.05 L350.0,33.34 L351.0,32.62 L352.0,31.91 L353.0,31.20 L354.0,30.49 L355.0,29.78 L356.0,29.07 L357.0,28.36 L358.0,27.66 L359.0,26.95 L360.0,26.24 L361.0,25.54 L362.0,24.83 L363.0,24.13 L364.0,23.43 L365.0,22.73 L366.0,22.03 L367.0,21.32 L368.0,20.63 L369.0,19.93 L370.0,19.23 L371.0,18.53 L372.0,17.84 L373.0,17.14 L374.0,16.45 L375.0,15.75 L376.0,15.06 L377.0,14.37 L378.0,13.68 L379.0,12.99 L380.0,12.30 L381.0,11.61 L382.0,10.92 L383.0,10.23 L384.0,9.55 L385.0,8.86 L386.0,8.18 L387.0,7.49 L388.0,6.81 L389.0,6.13 L390.0,5.45 L391.0,4.77 L392.0,4.09 L393.0,3.41 L394.0,2.73 L395.0,2.06 L396.0,1.38 L397.0,0.71 L398.0,0.03 L399.0,-0.64 L400.0,-1.31" stroke="#8255E1"/>
</g>
<g stroke="#848484" stroke-width="0.8" fill="none">
<rect x="61.7" y="0.0" width="335.7" height="208.4"/>
<path d="M78.7,208.4 v-1.7 M78.7,0.0 v1.7"/>
<path d="M95.9,208.4 v-1.7 M95.9,0.0 v1.7"/>
<path d="M113.1,208.4 v-1.7 M113.1,0.0 v1.7"/>
<path d="M130.3,208.4 v-3.0 M130.3,0.0 v3.0"/>
<path d="M147.6,208.4 v-1.7 M147.6,0.0 v1.7"/>
<path d="M164.8,208.4 v-1.7 M164.8,0.0 v1.7"/>
<path d="M182.0,208.4 v-1.7 M182.0,0.0 v1.7"/>
<path d="M199.2,208.4 v-3.0 M199.2,0.0 v3.0"/>
<path d="M216.4,208.4 v-1.7 M216.4,0.0 v1.7"/>
<path d="M233.6,208.4 v-1.7 M233.6,0.0 v1.7"/>
<path d="M250.8,208.4 v-1.7 M250.8,0.0 v1.7"/>
<path d="M268.0,208.4 v-3.0 M268.0,0.0 v3.0"/>
<path d="M285.2,208.4 v-1.7 M285.2,0.0 v1.7"/>
<path d="M302.4,208.4 v-1.7 M302.4,0.0 v1.7"/>
<path d="M319.6,208.4 v-1.7 M319.6,0.0 v1.7"/>
<path d="M336.9,208.4 v-3.0 M336.9,0.0 v3.0"/>
<path d="M354.1,208.4 v-1.7 M354.1,0.0 v1.7"/>
<path d="M371.3,208.4 v-1.7 M371.3,0.0 v1.7"/>
<path d="M388.5,208.4 v-1.7 M388.5,0.0 v1.7"/>
<path d="M61.7,199.5 h3.0 M397.4,199.5 h-3.0"/>
<path d="M61.7,191.2 h1.7 M397.4,191.2 h-1.7"/>
<path d="M61.7,182.9 h1.7 M397.4,182.9 h-1.7"/>
<path d="M61.7,174.6 h1.7 M397.4,174.6 h-1.7"/>
<path d="M61.7,166.3 h1.7 M397.4,166.3 h-1.7"/>
<path d="M61.7,158.0 h3.0 M397.4,158.0 h-3.0"/>
<path d="M61.7,149.7 h1.7 M397.4,149.7 h-1.7"/>
<path d="M61.7,141.4 h1.7 M397.4,141.4 h-1.7"/>
<path d="M61.7,133.1 h1.7 M397.4,133.1 h-1.7"/>
<path d="M61.7,124.8 h1.7 M397.4,124.8 h-1.7"/>
<path d="M61.7,116.5 h3.0 M397.4,116.5 h-3.0"/>
<path d="M61.7,108.2 h1.7 M397.4,108.2 h-1.7"/>
<path d="M61.7,99.9 h1.7 M397.4,99.9 h-1.7"/>
<path d="M61.7,91.6 h1.7 M397.4,91.6 h-1.7"/>
<path d="M61.7,83.3 h1.7 M397.4,83.3 h-1.7"/>
<path d="M61.7,75.0 h3.0 M397.4,75.0 h-3.0"/>
<path d="M61.7,66.7 h1.7 M397.4,66.7 h-1.7"/>
<path d="M61.7,58.4 h1.7 M397.4,58.4 h-1.7"/>
<path d="M61.7,50.1 h1.7 M397.4,50.1 h-1.7"/>
<path d="M61.7,41.8 h1.7 M397.4,41.8 h-1.7"/>
<path d="M61.7,33.5 h3.0 M397.4,33.5 h-3.0"/>
<path d="M61.7,25.2 h1.7 M397.4,25.2 h-1.7"/>
<path d="M61.7,16.9 h1.7 M397.4,16.9 h-1.7"/>
<path d="M61.7,8.6 h1.7 M397.4,8.6 h-1.7"/>
</g>
<text class="tl" x="61.5" y="223.0" text-anchor="middle">0.8</text>
<text class="tl" x="130.3" y="223.0" text-anchor="middle">1.0</text>
<text class="tl" x="199.2" y="223.0" text-anchor="middle">1.2</text>
<text class="tl" x="268.0" y="223.0" text-anchor="middle">1.4</text>
<text class="tl" x="336.9" y="223.0" text-anchor="middle">1.6</text>
<text class="tl" x="58.6" y="38.1" text-anchor="end">0.15</text>
<text class="tl" x="58.6" y="79.6" text-anchor="end">0.10</text>
<text class="tl" x="58.6" y="121.1" text-anchor="end">0.05</text>
<text class="tl" x="58.6" y="162.6" text-anchor="end">0.00</text>
<text class="tl" x="58.6" y="204.1" text-anchor="end">−0.05</text>
<text class="tl" x="229.4" y="246" text-anchor="middle">r/M</text>
<text class="tl" transform="translate(12.6,104.2) rotate(-90)" text-anchor="middle" font-size="15.6px" dy="1.6 -1.6">−g<tspan font-size="10.8px" dy="2.8">tt</tspan></text>
<text class="lb" x="78.3" y="116.6" dx="0 0.4 0.6" dy="0 1.7 -1.7">t=0</text>
<text class="lb" x="112" y="107" dx="0 0 0.3 0.6 0 0 0 -0.6" dy="0 0 1.7 -1.7 0 0 0 0">Δt=0.38M</text>
<text class="lb" x="134" y="190.4" dx="0 0.3 0.4 0 0 0 0" dy="0 1.7 -1.7 0 0 0 0">t=2.28M</text>
<text class="lb" x="287.7" y="138" dx="0 0.8 0.6 0 0 0 0 0.2 -0.2 0 -1.1 0.6 0.9" dy="0 1.7 -1.7 0 0 0 0 0 0 0 0 1.7 -1.7">Q=1.005M, b=1</text>
</g>
</svg>
</body></html>
